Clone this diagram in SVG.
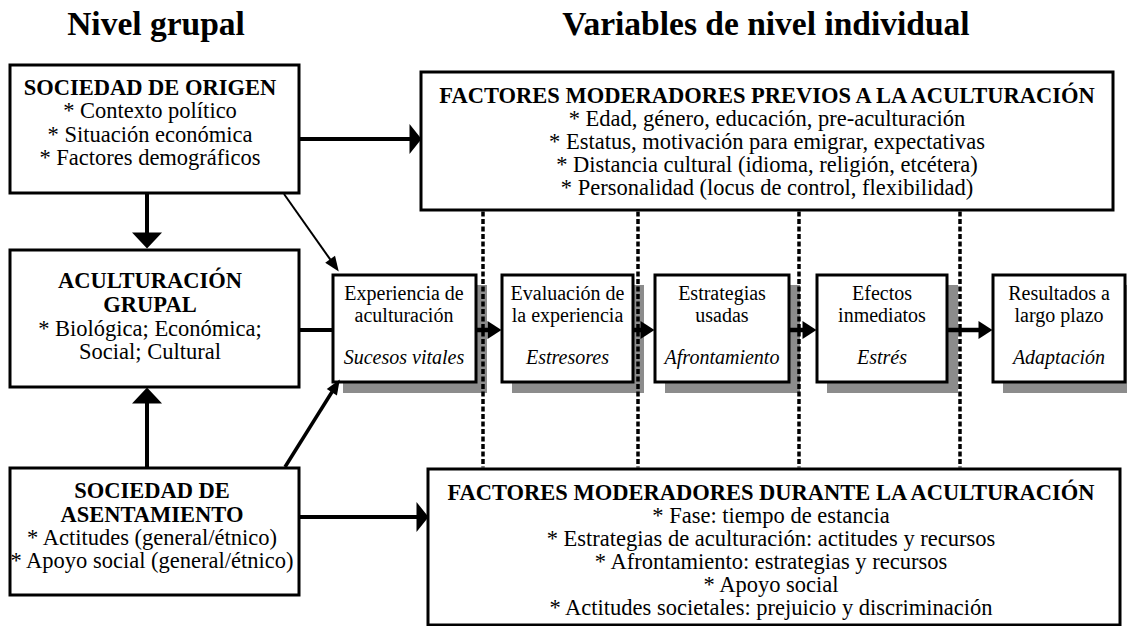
<svg xmlns="http://www.w3.org/2000/svg" width="1127" height="626" viewBox="0 0 1127 626">
<style>
.box{fill:#fff;stroke:#000;stroke-width:3}
.shadow{fill:#8c8c8c}
.t{font-family:"Liberation Serif","Times New Roman",serif;fill:#000;text-anchor:middle}
.b{font-size:22.5px;font-weight:bold}
.r{font-size:22.5px}
.s{font-size:20px}
.si{font-size:20px;font-style:italic}
.title{font-size:33.5px;font-weight:bold}
.dot{stroke:#000;stroke-width:3.5;stroke-dasharray:5 2.5;fill:none}
.c{stroke:#000;fill:none}
</style>
<defs>
<marker id="mBig" markerUnits="userSpaceOnUse" markerWidth="17" markerHeight="30" refX="0.5" refY="15" orient="auto" overflow="visible"><path d="M0,0 L16,15 L0,30 Z" fill="#000"/></marker>
<marker id="mSide" markerUnits="userSpaceOnUse" markerWidth="13" markerHeight="30" refX="0.5" refY="15" orient="auto" overflow="visible"><path d="M0,0 L12,15 L0,30 Z" fill="#000"/></marker>
<marker id="mMid" markerUnits="userSpaceOnUse" markerWidth="15" markerHeight="18" refX="0.5" refY="9" orient="auto" overflow="visible"><path d="M0,0 L14,9 L0,18 Z" fill="#000"/></marker>
<marker id="mDiag" markerUnits="userSpaceOnUse" markerWidth="16" markerHeight="12" refX="0.5" refY="6" orient="auto" overflow="visible"><path d="M0,0 L15,6 L0,12 Z" fill="#000"/></marker>
</defs>
<rect width="1127" height="626" fill="#fff"/>

<g id="titles">
<text class="t title" x="156" y="35">Nivel grupal</text>
<text class="t title" x="766" y="35">Variables de nivel individual</text>
</g>

<g id="sociedad-origen">
<rect class="box" x="10" y="65" width="289" height="128"/>
<text class="t b" x="150" y="95">SOCIEDAD DE ORIGEN</text>
<text class="t r" x="150" y="118">* Contexto político</text>
<text class="t r" x="150" y="142">* Situación económica</text>
<text class="t r" x="150" y="165">* Factores demográficos</text>
</g>

<g id="aculturacion-grupal">
<rect class="box" x="10" y="250" width="289" height="137"/>
<text class="t b" x="150" y="288">ACULTURACIÓN</text>
<text class="t b" x="150" y="312">GRUPAL</text>
<text class="t r" x="150" y="336">* Biológica; Económica;</text>
<text class="t r" x="150" y="359">Social; Cultural</text>
</g>

<g id="sociedad-asentamiento">
<rect class="box" x="10" y="468" width="289" height="127"/>
<text class="t b" x="152" y="498">SOCIEDAD DE</text>
<text class="t b" x="152" y="522">ASENTAMIENTO</text>
<text class="t r" x="152" y="545">* Actitudes (general/étnico)</text>
<text class="t r" x="152" y="568">* Apoyo social (general/étnico)</text>
</g>

<g id="factores-previos">
<rect class="box" x="421" y="72" width="692" height="138"/>
<text class="t b" x="767" y="103">FACTORES MODERADORES PREVIOS A LA ACULTURACIÓN</text>
<text class="t r" x="767" y="126">* Edad, género, educación, pre-aculturación</text>
<text class="t r" x="767" y="149">* Estatus, motivación para emigrar, expectativas</text>
<text class="t r" x="767" y="172">* Distancia cultural (idioma, religión, etcétera)</text>
<text class="t r" x="767" y="195">* Personalidad (locus de control, flexibilidad)</text>
</g>

<g id="factores-durante">
<rect class="box" x="428" y="469" width="692" height="156"/>
<text class="t b" x="771" y="500">FACTORES MODERADORES DURANTE LA ACULTURACIÓN</text>
<text class="t r" x="771" y="523">* Fase: tiempo de estancia</text>
<text class="t r" x="771" y="546">* Estrategias de aculturación: actitudes y recursos</text>
<text class="t r" x="771" y="569">* Afrontamiento: estrategias y recursos</text>
<text class="t r" x="771" y="592">* Apoyo social</text>
<text class="t r" x="771" y="615">* Actitudes societales: prejuicio y discriminación</text>
</g>

<g id="experiencia">
<rect class="shadow" x="343" y="285" width="144" height="108"/>
<rect class="box" x="333" y="275" width="143" height="107"/>
<text class="t s" x="404" y="300">Experiencia de</text>
<text class="t s" x="404" y="322">aculturación</text>
<text class="t si" x="404" y="364">Sucesos vitales</text>
</g>

<g id="evaluacion">
<rect class="shadow" x="512" y="285" width="132" height="108"/>
<rect class="box" x="502" y="275" width="131" height="107"/>
<text class="t s" x="567.5" y="300">Evaluación de</text>
<text class="t s" x="567.5" y="322">la experiencia</text>
<text class="t si" x="567.5" y="364">Estresores</text>
</g>

<g id="estrategias">
<rect class="shadow" x="665" y="285" width="135" height="108"/>
<rect class="box" x="655" y="275" width="134" height="107"/>
<text class="t s" x="722" y="300">Estrategias</text>
<text class="t s" x="722" y="322">usadas</text>
<text class="t si" x="722" y="364">Afrontamiento</text>
</g>

<g id="efectos">
<rect class="shadow" x="827" y="285" width="131" height="108"/>
<rect class="box" x="817" y="275" width="130" height="107"/>
<text class="t s" x="882" y="300">Efectos</text>
<text class="t s" x="882" y="322">inmediatos</text>
<text class="t si" x="882" y="364">Estrés</text>
</g>

<g id="resultados">
<rect class="shadow" x="1003" y="285" width="140" height="108"/>
<rect class="box" x="993" y="275" width="132" height="107"/>
<text class="t s" x="1059" y="300">Resultados a</text>
<text class="t s" x="1059" y="322">largo plazo</text>
<text class="t si" x="1059" y="364">Adaptación</text>
</g>

<g id="connectors">
<line class="dot" x1="483" y1="211.5" x2="483" y2="467.5"/>
<line class="dot" x1="638" y1="211.5" x2="638" y2="467.5"/>
<line class="dot" x1="799" y1="211.5" x2="799" y2="467.5"/>
<line class="dot" x1="960" y1="211.5" x2="960" y2="467.5"/>

<line class="c" stroke-width="4" x1="147" y1="194" x2="147" y2="233" marker-end="url(#mBig)"/>
<line class="c" stroke-width="4" x1="147" y1="467" x2="147" y2="403" marker-end="url(#mBig)"/>
<line class="c" stroke-width="4" x1="300" y1="139" x2="410" y2="139" marker-end="url(#mSide)"/>
<line class="c" stroke-width="4" x1="300" y1="517" x2="417" y2="517" marker-end="url(#mSide)"/>
<line class="c" stroke-width="4" x1="300" y1="330" x2="333" y2="330"/>
<line class="c" stroke-width="2" x1="284" y1="194" x2="330.4" y2="259.7" marker-end="url(#mDiag)"/>
<line class="c" stroke-width="3.5" x1="285" y1="467" x2="332.1" y2="391.8" marker-end="url(#mDiag)"/>

<line class="c" stroke-width="4.5" x1="477" y1="330" x2="488" y2="330" marker-end="url(#mMid)"/>
<line class="c" stroke-width="4.5" x1="634" y1="330" x2="641" y2="330" marker-end="url(#mMid)"/>
<line class="c" stroke-width="4.5" x1="790" y1="330" x2="803" y2="330" marker-end="url(#mMid)"/>
<line class="c" stroke-width="4.5" x1="948" y1="330" x2="979" y2="330" marker-end="url(#mMid)"/>
</g>
</svg>
